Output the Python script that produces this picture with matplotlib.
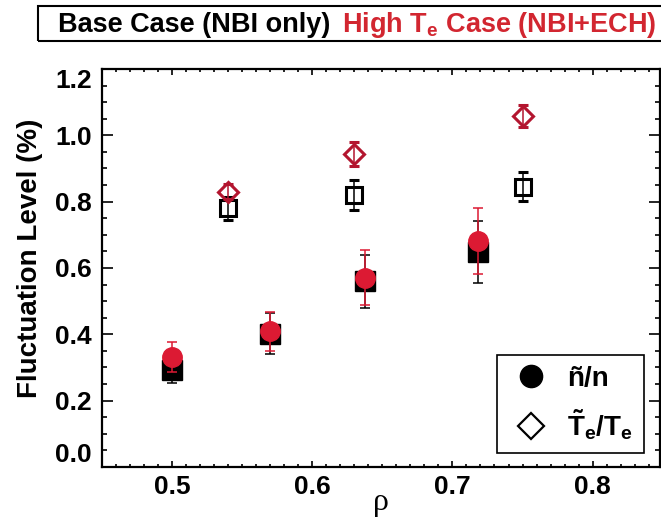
import numpy as np
import matplotlib
matplotlib.use("Agg")
import matplotlib.pyplot as plt
from matplotlib.lines import Line2D
from matplotlib.patches import Rectangle
from matplotlib.ticker import MultipleLocator, FormatStrFormatter

# n~/n : base case (black squares) and high Te case (red circles)
rho_n = [0.50, 0.57, 0.638, 0.718]
base_n = [0.292, 0.402, 0.560, 0.648]
base_n_err = [0.040, 0.061, 0.080, 0.094]
high_n = [0.331, 0.409, 0.571, 0.682]
high_n_err = [0.046, 0.058, 0.083, 0.099]

# Te~/Te : base case (open squares) and high Te case (open diamonds)
rho_te = [0.54, 0.63, 0.75]
base_te = [0.780, 0.820, 0.845]
base_te_err = [0.035, 0.044, 0.043]
high_te = [0.830, 0.944, 1.058]
high_te_err = [0.022, 0.036, 0.034]

xticks = [0.5, 0.6, 0.7, 0.8]
yticks = [0.0, 0.2, 0.4, 0.6, 0.8, 1.0, 1.2]

red = '#dc1a33'
dred = '#b3152f'

plt.rcParams['font.family'] = ['Liberation Sans', 'DejaVu Sans']
plt.rcParams['font.weight'] = 'bold'
plt.rcParams['mathtext.fontset'] = 'custom'
plt.rcParams['mathtext.rm'] = 'Liberation Sans:bold'
plt.rcParams['mathtext.it'] = 'Liberation Sans:bold'
plt.rcParams['mathtext.bf'] = 'Liberation Sans:bold'

fig = plt.figure(figsize=(6.61, 5.27), dpi=100)
ax = fig.add_axes([0.1539, 0.1139, 0.8446, 0.7553])

ax.errorbar(rho_te, base_te, yerr=base_te_err, fmt='s', mfc='none', mec='black', mew=2.2,
            ms=11.5, ecolor='black', elinewidth=1.1, capsize=3.5, capthick=1.1, zorder=2)
ax.errorbar(rho_te, high_te, yerr=high_te_err, fmt='D', mfc='none', mec=dred, mew=2.2,
            ms=10.5, ecolor=dred, elinewidth=1.1, capsize=3.5, capthick=1.1, zorder=3)
ax.errorbar(rho_n, base_n, yerr=base_n_err, fmt='s', color='black', ms=14,
            elinewidth=1.1, capsize=3.5, capthick=1.1, zorder=4)
ax.errorbar(rho_n, high_n, yerr=high_n_err, fmt='o', color=red, ms=14,
            elinewidth=1.1, capsize=3.5, capthick=1.1, zorder=5)

ax.set_xlim(0.45, 0.848)
ax.set_ylim(0, 1.2)
ax.set_xticks(xticks)
ax.set_yticks(yticks)
ax.xaxis.set_minor_locator(MultipleLocator(0.01))
ax.yaxis.set_minor_locator(MultipleLocator(0.05))
ax.xaxis.set_major_formatter(FormatStrFormatter('%.1f'))
ax.yaxis.set_major_formatter(FormatStrFormatter('%.1f'))

ax.tick_params(which='both', direction='in', top=True, right=True, width=1.2)
ax.tick_params(axis='y', which='major', length=8, pad=7, labelsize=19)
ax.tick_params(axis='y', which='minor', length=3.6)
ax.tick_params(axis='x', which='major', length=4.5, pad=6, labelsize=19)
ax.tick_params(axis='x', which='minor', length=2.2)
for s in ax.spines.values():
    s.set_linewidth(1.6)

# end labels pulled inside the axis range, as in the original
yt = ax.yaxis.get_major_ticks()
yt[0].label1.set_va('bottom')
yt[-1].label1.set_va('top')

ax.set_ylabel('Fluctuation Level (%)', fontsize=20, fontweight='bold')
ax.yaxis.set_label_coords(-0.105, 0.524)
ax.set_xlabel('ρ', fontsize=23, fontfamily='Liberation Serif', fontweight='normal', labelpad=-8)

handles = [Line2D([], [], marker='o', ls='none', color='black', ms=16),
           Line2D([], [], marker='D', ls='none', mfc='white', mec='black', mew=1.6, ms=13.5)]
leg = ax.legend(handles, ['ñ/n', r'$\tilde{\mathrm{T}}_\mathrm{e}/\mathrm{T}_\mathrm{e}$'],
                loc='lower right', bbox_to_anchor=(0.971, 0.035), borderaxespad=0,
                fontsize=20, fancybox=False, framealpha=1, edgecolor='black',
                handletextpad=0.5, labelspacing=0.55, borderpad=0.4, handlelength=1.6)
leg.get_frame().set_linewidth(1.2)

# header box above the axes
fig.patches.append(Rectangle((38 / 661, 1 - 41 / 527), 0.98, 35 / 527, transform=fig.transFigure,
                             fill=False, edgecolor='black', linewidth=1.5))
fig.text(58 / 661, 1 - 32 / 527, 'Base Case (NBI only)', fontsize=19.5, color='black')
fig.text(342 / 661, 1 - 32 / 527, r'High $\mathrm{T_e}$ Case (NBI+ECH)', fontsize=19.5, color='#d22630')

fig.savefig('out.png', dpi=100)
